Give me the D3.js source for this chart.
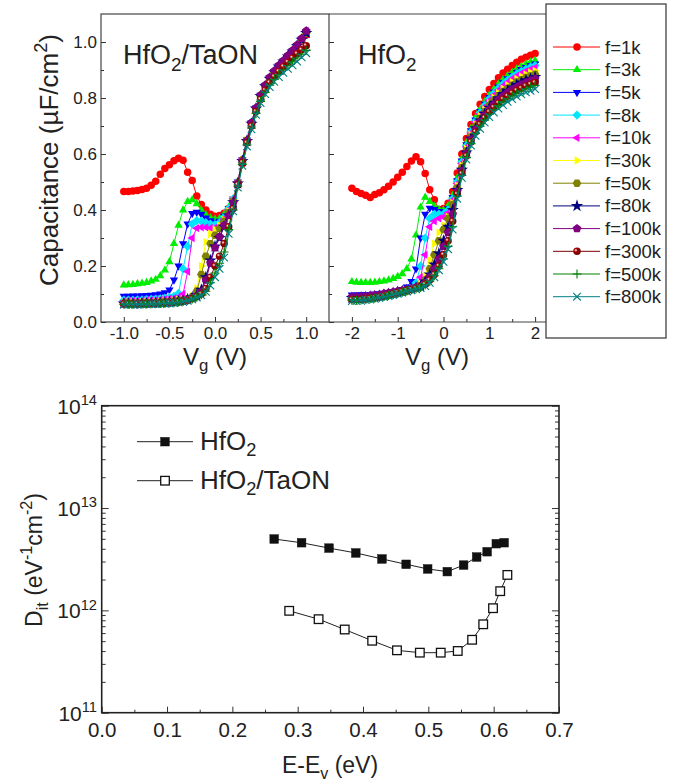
<!DOCTYPE html>
<html>
<head>
<meta charset="utf-8">
<script src="https://cdn.jsdelivr.net/npm/d3@7"></script>
<style>
  body { margin: 0; background: #fff; }
  text { font-family: "Liberation Sans", Arial, sans-serif; fill: #222; }
</style>
</head>
<body>
<div class="chart"></div>
<script>
// ---- data ----
const vgTaON = [-1.0,-0.95,-0.9,-0.85,-0.8,-0.75,-0.7,-0.65,-0.6,-0.55,-0.5,-0.45,-0.4,-0.35,-0.3,-0.25,-0.2,-0.15,-0.1,-0.05,0,0.05,0.1,0.15,0.2,0.25,0.3,0.35,0.4,0.45,0.5,0.55,0.6,0.65,0.7,0.75,0.8,0.85,0.9,0.95,1.0];
const vgHfO2 = [-2.0,-1.9,-1.8,-1.7,-1.6,-1.5,-1.4,-1.3,-1.2,-1.1,-1.0,-0.9,-0.8,-0.7,-0.6,-0.5,-0.4,-0.3,-0.2,-0.1,0,0.1,0.2,0.3,0.4,0.5,0.6,0.7,0.8,0.9,1.0,1.1,1.2,1.3,1.4,1.5,1.6,1.7,1.8,1.9,2.0];

const freqLabels = ['f=1k','f=3k','f=5k','f=8k','f=10k','f=30k','f=50k','f=80k','f=100k','f=300k','f=500k','f=800k'];

// HfO2/TaON capacitance (uF/cm2)
const taon1k   = [.466,.466,.468,.470,.473,.478,.488,.503,.528,.548,.562,.576,.585,.578,.535,.505,.450,.420,.400,.385,.378,.380,.388,.405,.432,.490,.565,.640,.700,.755,.800,.840,.868,.890,.910,.928,.946,.965,.985,1.005,1.025];
const taon3k   = [.132,.133,.134,.136,.138,.141,.146,.152,.165,.185,.215,.280,.345,.400,.430,.436,.422,.400,.383,.372,.367,.370,.385,.410,.440,.500,.580,.650,.712,.765,.810,.845,.872,.895,.915,.932,.950,.968,.988,1.010,1.035];
const taon5k   = [.092,.092,.093,.093,.094,.095,.096,.098,.100,.105,.115,.150,.200,.280,.350,.388,.392,.385,.372,.362,.356,.360,.378,.405,.440,.500,.580,.650,.712,.765,.810,.845,.872,.895,.915,.932,.950,.968,.988,1.010,1.035];
const taon8k   = [.078,.078,.078,.079,.079,.080,.081,.082,.083,.085,.088,.092,.102,.190,.270,.350,.362,.360,.355,.350,.348,.355,.375,.405,.440,.500,.580,.650,.712,.765,.810,.845,.872,.895,.915,.932,.950,.968,.988,1.010,1.035];
const taon10k  = [.075,.075,.075,.076,.076,.077,.078,.079,.080,.081,.083,.085,.088,.100,.180,.300,.335,.338,.338,.336,.336,.345,.368,.400,.440,.502,.582,.652,.714,.767,.812,.847,.874,.897,.917,.934,.952,.970,.990,1.013,1.040];
const taon30k  = [.070,.070,.070,.070,.071,.071,.072,.072,.073,.074,.075,.077,.079,.082,.086,.092,.120,.200,.285,.315,.330,.345,.365,.395,.435,.498,.578,.648,.710,.763,.808,.843,.870,.893,.913,.930,.948,.966,.986,1.008,1.032];
const taon50k  = [.068,.068,.068,.068,.069,.069,.070,.070,.071,.072,.073,.074,.076,.079,.083,.090,.110,.170,.235,.280,.310,.335,.360,.390,.432,.498,.578,.648,.710,.763,.808,.843,.870,.893,.913,.930,.948,.966,.986,1.008,1.032];
const taon80k  = [.066,.066,.066,.066,.067,.067,.068,.068,.069,.070,.071,.072,.074,.077,.081,.087,.095,.115,.160,.220,.270,.300,.340,.380,.428,.495,.575,.646,.708,.762,.807,.842,.869,.892,.912,.930,.948,.966,.986,1.008,1.032];
const taon100k = [.065,.065,.065,.065,.066,.066,.067,.067,.068,.069,.070,.071,.073,.076,.080,.085,.093,.108,.150,.210,.265,.305,.345,.380,.425,.495,.575,.648,.712,.765,.810,.846,.874,.897,.917,.934,.952,.970,.990,1.013,1.040];
const taon300k = [.064,.064,.064,.064,.065,.065,.066,.066,.067,.068,.069,.070,.072,.074,.078,.083,.090,.100,.120,.160,.200,.235,.280,.340,.405,.490,.570,.640,.700,.752,.795,.828,.855,.876,.895,.912,.928,.943,.958,.972,.987];
const taon500k = [.063,.063,.063,.063,.064,.064,.065,.065,.066,.067,.068,.069,.071,.073,.077,.082,.088,.097,.110,.140,.175,.210,.250,.330,.400,.485,.563,.632,.693,.745,.788,.820,.846,.866,.884,.900,.915,.929,.943,.956,.970];
const taon800k = [.062,.062,.062,.062,.063,.063,.064,.064,.065,.066,.067,.068,.070,.072,.076,.081,.087,.095,.108,.130,.160,.190,.230,.315,.395,.480,.558,.627,.688,.740,.782,.814,.839,.858,.875,.890,.904,.917,.930,.945,.960];

// HfO2 capacitance (uF/cm2)
const hfo1k   = [.478,.466,.459,.453,.445,.455,.462,.472,.485,.500,.517,.535,.555,.575,.590,.572,.530,.472,.437,.402,.405,.424,.466,.532,.600,.655,.705,.745,.778,.805,.830,.852,.872,.889,.903,.916,.928,.938,.946,.953,.959];
const hfo3k   = [.144,.142,.141,.141,.141,.142,.144,.146,.150,.155,.162,.172,.190,.225,.310,.410,.445,.430,.412,.402,.400,.415,.452,.514,.583,.640,.690,.729,.760,.786,.810,.831,.850,.866,.880,.892,.903,.913,.921,.928,.934];
const hfo5k   = [.097,.097,.098,.098,.099,.100,.101,.103,.105,.108,.111,.116,.125,.145,.190,.300,.385,.407,.402,.395,.392,.405,.445,.505,.575,.633,.683,.722,.752,.778,.802,.822,.840,.856,.869,.881,.892,.902,.909,.916,.922];
const hfo8k   = [.082,.082,.083,.084,.085,.087,.089,.091,.094,.097,.101,.106,.112,.122,.140,.200,.300,.370,.385,.385,.385,.400,.440,.501,.571,.629,.679,.718,.748,.773,.797,.817,.835,.850,.863,.875,.886,.895,.903,.910,.916];
const hfo10k  = [.084,.084,.085,.086,.087,.089,.091,.093,.096,.099,.103,.107,.113,.120,.130,.160,.240,.340,.360,.370,.375,.390,.435,.495,.566,.625,.675,.713,.743,.768,.791,.810,.828,.843,.856,.868,.879,.888,.896,.902,.908];
const hfo30k  = [.080,.080,.081,.082,.084,.086,.088,.091,.094,.098,.102,.106,.111,.116,.123,.135,.165,.220,.280,.320,.345,.375,.425,.487,.558,.618,.668,.706,.735,.759,.782,.801,.818,.833,.846,.857,.868,.877,.884,.891,.897];
const hfo50k  = [.081,.081,.082,.083,.085,.087,.089,.092,.095,.099,.103,.107,.111,.116,.122,.130,.150,.190,.240,.290,.330,.370,.420,.479,.551,.611,.661,.699,.727,.751,.773,.792,.808,.823,.835,.846,.857,.865,.873,.879,.885];
const hfo80k  = [.086,.086,.087,.088,.090,.092,.094,.097,.100,.103,.107,.110,.114,.118,.123,.128,.145,.170,.205,.245,.290,.340,.400,.471,.544,.605,.655,.692,.720,.744,.765,.783,.799,.814,.826,.837,.847,.855,.863,.869,.875];
const hfo100k = [.090,.090,.091,.092,.094,.096,.098,.101,.104,.107,.110,.113,.117,.120,.124,.127,.140,.160,.190,.225,.270,.320,.385,.466,.539,.601,.651,.687,.715,.738,.759,.777,.793,.807,.819,.830,.839,.848,.855,.862,.868];
const hfo300k = [.080,.080,.081,.083,.085,.087,.090,.093,.097,.101,.105,.109,.113,.117,.121,.125,.135,.150,.170,.200,.240,.290,.360,.457,.530,.593,.643,.679,.706,.729,.750,.767,.782,.796,.807,.818,.827,.835,.843,.849,.855];
const hfo500k = [.078,.078,.079,.081,.083,.085,.088,.091,.095,.099,.103,.107,.111,.115,.119,.123,.132,.145,.165,.190,.225,.270,.340,.449,.523,.587,.637,.673,.699,.721,.742,.758,.773,.786,.798,.808,.817,.825,.833,.839,.845];
const hfo800k = [.075,.075,.076,.078,.080,.083,.086,.089,.093,.097,.101,.105,.109,.113,.117,.121,.128,.140,.160,.185,.215,.260,.330,.440,.515,.580,.630,.665,.690,.712,.732,.748,.762,.775,.786,.796,.805,.813,.820,.826,.832];

const taonCaps = [taon1k, taon3k, taon5k, taon8k, taon10k, taon30k, taon50k, taon80k, taon100k, taon300k, taon500k, taon800k];
const hfoCaps = [hfo1k, hfo3k, hfo5k, hfo8k, hfo10k, hfo30k, hfo50k, hfo80k, hfo100k, hfo300k, hfo500k, hfo800k];

// interface trap density
const eHfO2 = [0.264,0.306,0.348,0.389,0.429,0.466,0.499,0.529,0.554,0.574,0.590,0.604,0.616];
const ditHfO2 = [4.98e12,4.58e12,4.06e12,3.64e12,3.18e12,2.82e12,2.54e12,2.39e12,2.77e12,3.32e12,3.74e12,4.48e12,4.58e12];
const eTaON = [0.287,0.332,0.372,0.414,0.452,0.487,0.519,0.545,0.567,0.584,0.599,0.610,0.621];
const ditTaON = [9.9e11,8.2e11,6.5e11,5.05e11,4.07e11,3.86e11,3.86e11,4.01e11,5.16e11,7.31e11,1.05e12,1.54e12,2.22e12];

// ---- styles ----
const colors = ['#ff0000','#00ee00','#0000ff','#00e5ff','#ff00ff','#ffff00','#808000','#000080','#800080','#800000','#008000','#008080'];
const markers = ['circle','up','down','diamond','left','right','hexagon','star','pentagon','ball','plus','times'];

let width = 679;
let height = 782;

let svg = d3.select('.chart')
  .append('svg')
  .attr('width', width)
  .attr('height', height)
  .attr('viewBox', '0 0 ' + width + ' ' + height);

let defs = svg.append('defs');
let grad = defs.append('radialGradient').attr('id', 'ball').attr('cx', '35%').attr('cy', '35%').attr('r', '65%');
grad.append('stop').attr('offset', '0%').attr('stop-color', '#ffffff');
grad.append('stop').attr('offset', '35%').attr('stop-color', '#a00000');
grad.append('stop').attr('offset', '100%').attr('stop-color', '#700000');

// text with sub/superscripts
function richText(sel, parts, size) {
  let cur = 0;
  sel.attr('font-size', size);
  parts.forEach(function(p) {
    let off = p[1] === 'sup' ? -0.42 * size : (p[1] === 'sub' ? 0.25 * size : 0);
    sel.append('tspan')
      .attr('dy', off - cur)
      .attr('font-size', p[1] ? size * 0.7 : size)
      .text(p[0]);
    cur = off;
  });
  return sel;
}

function poly(n, r, rot) {
  let pts = d3.range(n).map(function(i) {
    let a = (rot + i * 360 / n) * Math.PI / 180;
    return [(r * Math.cos(a)).toFixed(2), (r * Math.sin(a)).toFixed(2)];
  });
  return 'M' + pts.join('L') + 'Z';
}

const markerPaths = {
  circle: d3.symbol(d3.symbolCircle, 44)(),
  up: poly(3, 4.8, -90),
  down: poly(3, 4.8, 90),
  diamond: poly(4, 4.6, 0),
  left: poly(3, 4.8, 180),
  right: poly(3, 4.8, 0),
  hexagon: poly(6, 4.3, 0),
  star: d3.symbol(d3.symbolStar, 48)(),
  pentagon: poly(5, 4.6, -90),
  ball: d3.symbol(d3.symbolCircle, 44)(),
  plus: 'M0,-4.5V4.5M-4.5,0H4.5',
  times: 'M-3.8,-3.8L3.8,3.8M-3.8,3.8L3.8,-3.8'
};

function styleMarker(sel, i) {
  let m = markers[i];
  sel.attr('d', markerPaths[m]);
  if (m === 'plus' || m === 'times') {
    sel.attr('fill', 'none').attr('stroke', colors[i]).attr('stroke-width', 1.1);
  } else if (m === 'ball') {
    sel.attr('fill', 'url(#ball)');
  } else {
    sel.attr('fill', colors[i]);
  }
}

function styleAxis(g, size) {
  g.select('.domain').remove();
  g.attr('color', '#333');
  g.selectAll('text').attr('font-family', '"Liberation Sans", Arial, sans-serif').attr('font-size', size).attr('fill', '#222');
}

// ---- top C-V panels ----
let capY = d3.scaleLinear().domain([0, 1.1]).range([322, 14]);
let xTaON = d3.scaleLinear().domain([-1.25, 1.25]).range([101, 329]);
let xHfO2 = d3.scaleLinear().domain([-2.5, 2.5]).range([329, 558]);

defs.append('clipPath').attr('id', 'clipL').append('rect').attr('x', 101).attr('y', 14).attr('width', 228).attr('height', 308);
defs.append('clipPath').attr('id', 'clipR').append('rect').attr('x', 329).attr('y', 14).attr('width', 229).attr('height', 308);

function drawPanel(clip, xs, vg, caps) {
  let g = svg.append('g').attr('clip-path', 'url(#' + clip + ')');
  caps.forEach(function(c, i) {
    let pts = vg.map(function(v, j) { return [xs(v), capY(c[j])]; });
    let s = g.append('g');
    s.append('path')
      .attr('d', d3.line()(pts))
      .attr('fill', 'none')
      .attr('stroke', colors[i])
      .attr('stroke-width', 1);
    s.selectAll('.mk')
      .data(pts)
      .enter().append('path')
      .attr('class', 'mk')
      .attr('transform', function(d) { return 'translate(' + d[0] + ',' + d[1] + ')'; })
      .call(styleMarker, i);
  });
}

drawPanel('clipL', xTaON, vgTaON, taonCaps);
drawPanel('clipR', xHfO2, vgHfO2, hfoCaps);

// frames
svg.append('rect').attr('x', 101).attr('y', 14).attr('width', 228).attr('height', 308)
  .attr('fill', 'none').attr('stroke', '#444').attr('stroke-width', 1.2);
svg.append('path').attr('d', 'M329,14H558M329,322H558')
  .attr('fill', 'none').attr('stroke', '#444').attr('stroke-width', 1.2);

// left panel axes
svg.append('g').attr('transform', 'translate(0,322)')
  .call(d3.axisBottom(xTaON).tickValues([-1, -0.5, 0, 0.5, 1]).tickSize(-5).tickPadding(5)
    .tickFormat(function(d) { return d.toFixed(1); }))
  .call(styleAxis, 17);
svg.append('g').attr('transform', 'translate(0,322)')
  .call(d3.axisBottom(xTaON).tickValues([-0.75, -0.25, 0.25, 0.75]).tickSize(-3).tickFormat(''))
  .call(styleAxis, 17);
svg.append('g').attr('transform', 'translate(101,0)')
  .call(d3.axisLeft(capY).tickValues([0, 0.2, 0.4, 0.6, 0.8, 1.0]).tickSize(-5).tickPadding(4)
    .tickFormat(function(d) { return d.toFixed(1); }))
  .call(styleAxis, 17);
svg.append('g').attr('transform', 'translate(101,0)')
  .call(d3.axisLeft(capY).tickValues([0.1, 0.3, 0.5, 0.7, 0.9]).tickSize(-3).tickFormat(''))
  .call(styleAxis, 17);

// right panel axes
svg.append('g').attr('transform', 'translate(0,322)')
  .call(d3.axisBottom(xHfO2).tickValues([-2, -1, 0, 1, 2]).tickSize(-5).tickPadding(5)
    .tickFormat(function(d) { return String(d); }))
  .call(styleAxis, 17);
svg.append('g').attr('transform', 'translate(0,322)')
  .call(d3.axisBottom(xHfO2).tickValues([-1.5, -0.5, 0.5, 1.5]).tickSize(-3).tickFormat(''))
  .call(styleAxis, 17);
svg.append('g').attr('transform', 'translate(329,0)')
  .call(d3.axisLeft(capY).tickValues([0, 0.2, 0.4, 0.6, 0.8, 1.0]).tickSize(-5).tickFormat(''))
  .call(styleAxis, 17);
svg.append('g').attr('transform', 'translate(329,0)')
  .call(d3.axisLeft(capY).tickValues([0.1, 0.3, 0.5, 0.7, 0.9]).tickSize(-3).tickFormat(''))
  .call(styleAxis, 17);

// panel labels and titles
richText(svg.append('text').attr('x', 123).attr('y', 64), [['HfO'], ['2', 'sub'], ['/TaON']], 27);
richText(svg.append('text').attr('x', 358).attr('y', 64), [['HfO'], ['2', 'sub']], 27);
richText(svg.append('text').attr('x', 215).attr('y', 365).attr('text-anchor', 'middle'), [['V'], ['g', 'sub'], [' (V)']], 24);
richText(svg.append('text').attr('x', 437).attr('y', 365).attr('text-anchor', 'middle'), [['V'], ['g', 'sub'], [' (V)']], 24);
richText(svg.append('text').attr('transform', 'translate(58,160) rotate(-90)').attr('text-anchor', 'middle'),
  [['Capacitance (\u00b5F/cm'], ['2', 'sup'], [')']], 26);

// legend
let lg = svg.append('g');
lg.append('rect').attr('x', 546).attr('y', 4).attr('width', 120).attr('height', 334)
  .attr('fill', '#fff').attr('stroke', '#333').attr('stroke-width', 1.2);
freqLabels.forEach(function(lbl, i) {
  let y = 47 + i * 22.7;
  lg.append('line').attr('x1', 553).attr('x2', 600).attr('y1', y).attr('y2', y)
    .attr('stroke', colors[i]).attr('stroke-width', 1);
  lg.append('path').attr('transform', 'translate(577,' + y + ')').call(styleMarker, i);
  lg.append('text').attr('x', 605).attr('y', y + 6.5).attr('font-size', 18.5).text(lbl);
});

// ---- bottom Dit panel ----
let xE = d3.scaleLinear().domain([0, 0.7]).range([101.7, 559]);
let yD = d3.scaleLog().domain([1e11, 1e14]).range([712.7, 405.7]);

let minorD = [];
[1e11, 1e12, 1e13].forEach(function(dec) {
  for (let k = 2; k <= 9; k++) minorD.push(k * dec);
});

svg.append('g').attr('transform', 'translate(0,712.7)')
  .call(d3.axisBottom(xE).tickValues([0, 0.1, 0.2, 0.3, 0.4, 0.5, 0.6, 0.7]).tickSize(-6).tickPadding(10)
    .tickFormat(function(d) { return d.toFixed(1); }))
  .call(styleAxis, 20.5);
svg.append('g').attr('transform', 'translate(0,712.7)')
  .call(d3.axisBottom(xE).tickValues([0.05, 0.15, 0.25, 0.35, 0.45, 0.55, 0.65]).tickSize(-3).tickFormat(''))
  .call(styleAxis, 20);
[[101.7, d3.axisLeft], [559, d3.axisRight]].forEach(function(a) {
  svg.append('g').attr('transform', 'translate(' + a[0] + ',0)')
    .call(a[1](yD).tickValues([1e11, 1e12, 1e13, 1e14]).tickSize(-7).tickFormat(''))
    .call(styleAxis, 20);
  svg.append('g').attr('transform', 'translate(' + a[0] + ',0)')
    .call(a[1](yD).tickValues(minorD).tickSize(-4).tickFormat(''))
    .call(styleAxis, 20);
});

svg.append('rect').attr('x', 101.7).attr('y', 405.7).attr('width', 457.3).attr('height', 307)
  .attr('fill', 'none').attr('stroke', '#222').attr('stroke-width', 1.6);

[11, 12, 13, 14].forEach(function(p) {
  richText(svg.append('text').attr('x', 97).attr('y', yD(Math.pow(10, p)) + 8).attr('text-anchor', 'end'),
    [['10'], [String(p), 'sup']], 21);
});

richText(svg.append('text').attr('x', 330).attr('y', 773).attr('text-anchor', 'middle'),
  [['E-E'], ['v', 'sub'], [' (eV)']], 23);
richText(svg.append('text').attr('transform', 'translate(42,560) rotate(-90)').attr('text-anchor', 'middle'),
  [['D'], ['it', 'sub'], [' (eV'], ['-1', 'sup'], ['cm'], ['-2', 'sup'], [')']], 23);

function drawDit(es, ds, filled) {
  let pts = es.map(function(e, i) { return [xE(e), yD(ds[i])]; });
  svg.append('path').attr('d', d3.line()(pts)).attr('fill', 'none').attr('stroke', '#222').attr('stroke-width', 1);
  svg.selectAll(null)
    .data(pts)
    .enter().append('rect')
    .attr('x', function(d) { return d[0] - 4.3; })
    .attr('y', function(d) { return d[1] - 4.3; })
    .attr('width', 8.6)
    .attr('height', 8.6)
    .attr('fill', filled ? '#111' : '#fff')
    .attr('stroke', '#111')
    .attr('stroke-width', filled ? 0.5 : 1.3);
}
drawDit(eHfO2, ditHfO2, true);
drawDit(eTaON, ditTaON, false);

// Dit legend
[[441.7, true, [['HfO'], ['2', 'sub']]], [480.7, false, [['HfO'], ['2', 'sub'], ['/TaON']]]].forEach(function(it) {
  svg.append('line').attr('x1', 137).attr('x2', 193).attr('y1', it[0]).attr('y2', it[0])
    .attr('stroke', '#222').attr('stroke-width', 1);
  svg.append('rect').attr('x', 165 - 4.3).attr('y', it[0] - 4.3).attr('width', 8.6).attr('height', 8.6)
    .attr('fill', it[1] ? '#111' : '#fff').attr('stroke', '#111').attr('stroke-width', it[1] ? 0.5 : 1.3);
  richText(svg.append('text').attr('x', 200).attr('y', it[0] + 8), it[2], 26);
});
</script>
</body>
</html>
